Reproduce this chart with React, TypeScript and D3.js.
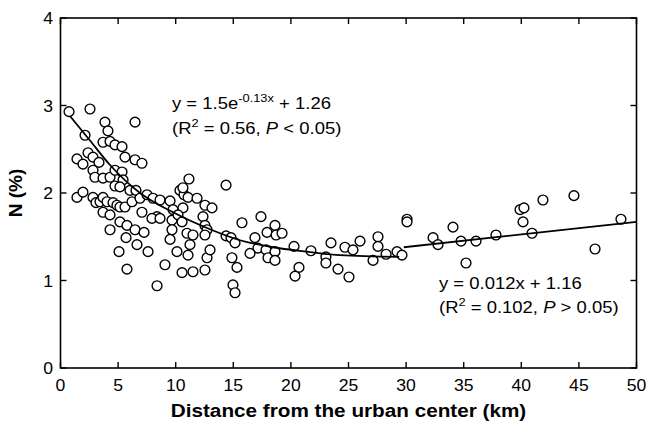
import React from "react";
import * as d3 from "d3";

// Scatter data: distance from urban center (km) and N (%)
const pointDistance = [
  0.74, 2.56, 2.13, 1.43, 1.95, 2.39, 2.82, 3.34, 2.82, 2.99, 1.43, 1.95, 2.82, 3.08, 3.43,
  3.86, 4.12, 3.69, 4.30, 4.73, 5.34, 5.60, 6.47, 7.07, 6.47, 3.69, 4.30, 4.73, 5.34, 5.43,
  4.73, 5.16, 6.03, 6.55, 3.69, 4.04, 4.56, 4.90, 5.16, 5.60, 6.21, 3.69, 4.30, 5.16, 5.77,
  4.30, 5.08, 5.69, 6.47, 6.64, 5.77, 6.90, 7.07,
  7.51, 8.03, 8.64, 9.51, 10.37, 10.72, 11.07, 11.15, 10.63, 11.85, 12.54, 13.15, 8.38, 7.94,
  8.64, 9.68, 9.77, 10.63, 10.20, 9.68, 9.51, 10.11, 10.55, 11.50, 11.07, 11.24, 10.98, 11.50,
  12.37, 12.54, 12.72, 12.54, 12.72, 12.98, 10.55, 8.38, 9.07, 7.25, 7.60, 12.54,
  14.37, 14.37, 14.80, 15.15, 15.75, 16.88, 17.40, 17.93, 18.62, 18.71, 19.23, 17.14, 16.45,
  17.84, 18.01, 18.62, 20.27, 20.70, 20.36, 18.62, 14.88, 15.32, 14.97, 15.15,
  21.74, 23.04, 23.04, 23.48, 24.09, 24.69, 25.04, 25.39, 26.0, 27.13, 27.56, 27.56, 28.26,
  29.21, 29.64, 30.08, 30.08, 32.34, 32.77, 34.07, 34.77, 35.2, 36.07, 37.8, 39.89, 40.23,
  40.15, 40.93, 41.88, 44.57, 46.4, 48.65,
];
const pointN = [
  2.93, 2.96, 2.66, 2.39, 2.33, 2.46, 2.41, 2.35, 2.26, 2.18, 1.95, 2.01, 1.95, 1.89, 1.90,
  2.81, 2.71, 2.58, 2.59, 2.55, 2.53, 2.41, 2.38, 2.34, 2.81, 2.17, 2.18, 2.26, 2.24, 2.15,
  2.08, 2.07, 2.03, 2.03, 1.95, 1.90, 1.89, 1.86, 1.84, 1.84, 1.90, 1.78, 1.75, 1.67, 1.63,
  1.58, 1.33, 1.49, 1.58, 1.41, 1.13, 1.94, 1.78,
  1.98, 1.94, 1.92, 1.91, 2.03, 1.98, 1.95, 2.16, 2.06, 1.94, 1.86, 1.83, 1.73, 1.71,
  1.71, 1.69, 1.81, 1.83, 1.75, 1.58, 1.47, 1.33, 1.09, 1.10, 1.29, 1.41, 1.54, 1.52,
  1.73, 1.63, 1.58, 1.12, 1.26, 1.35, 1.67, 0.94, 1.18, 1.55, 1.33, 1.52,
  2.09, 1.51, 1.49, 1.43, 1.66, 1.49, 1.73, 1.55, 1.63, 1.52, 1.54, 1.37, 1.31,
  1.35, 1.26, 1.33, 1.39, 1.15, 1.05, 1.23, 1.26, 1.15, 0.95, 0.86,
  1.34, 1.27, 1.20, 1.43, 1.13, 1.38, 1.04, 1.35, 1.45, 1.23, 1.50, 1.39, 1.30,
  1.33, 1.29, 1.70, 1.67, 1.49, 1.41, 1.61, 1.45, 1.20, 1.45, 1.52, 1.81, 1.83,
  1.67, 1.54, 1.92, 1.97, 1.36, 1.70,
];

// Fitted curves as drawn in the figure
const expFitX = [0.82, 2.56, 4.3, 6.9, 9.77, 12.72, 15.58, 18.45, 21.4, 24.26, 29.4];
const expFitY = [2.88, 2.6, 2.32, 2.0, 1.78, 1.6, 1.46, 1.38, 1.33, 1.29, 1.27];
const linFitX = [29.8, 50];
const linFitY = [1.38, 1.67];

const xTicks = [0, 5, 10, 15, 20, 25, 30, 35, 40, 45, 50];
const yTicks = [0, 1, 2, 3, 4];

const W = 647;
const H = 425;
const left = 60.5;
const right = 636.5;
const top = 18;
const bottom = 368;
const FONT = "'Liberation Sans', Arial, Helvetica, sans-serif";
const SX = 1.1;

const x = d3.scaleLinear().domain([0, 50]).range([left, right]);
const y = d3.scaleLinear().domain([0, 4]).range([bottom, top]);

function SText({ tx, ty, sx = SX, anchor = "start", size = 16, weight = "normal", children }: any) {
  return (
    <text
      transform={`translate(${tx},${ty}) scale(${sx},1)`}
      textAnchor={anchor}
      fontSize={size}
      fontWeight={weight}
      fontFamily={FONT}
      fill="#000"
    >
      {children}
    </text>
  );
}

export default function App() {
  const line = d3
    .line<[number, number]>()
    .x((d) => x(d[0]))
    .y((d) => y(d[1]))
    .curve(d3.curveMonotoneX);
  const expPts: [number, number][] = expFitX.map((v, i) => [v, expFitY[i]]);
  const linPts: [number, number][] = linFitX.map((v, i) => [v, linFitY[i]]);
  const tickLen = 6;
  const annSize = 16.5;
  const annSx = 1.12;

  return (
    <svg
      width={W}
      height={H}
      style={{ position: "absolute", left: 0, top: 0, background: "#fff" }}
    >
      <rect x={0} y={0} width={W} height={H} fill="#fff" />
      {/* ticks */}
      {xTicks.map((t) => (
        <g key={"xt" + t}>
          <line x1={x(t)} x2={x(t)} y1={bottom} y2={bottom - tickLen} stroke="#000" strokeWidth={1.4} />
          <line x1={x(t)} x2={x(t)} y1={top} y2={top + tickLen} stroke="#000" strokeWidth={1.4} />
          <SText tx={x(t)} ty={391} anchor="middle" size={16}>
            {t}
          </SText>
        </g>
      ))}
      {yTicks.map((t) => (
        <g key={"yt" + t}>
          <line x1={left} x2={left + tickLen} y1={y(t)} y2={y(t)} stroke="#000" strokeWidth={1.4} />
          <line x1={right} x2={right - tickLen} y1={y(t)} y2={y(t)} stroke="#000" strokeWidth={1.4} />
          <SText tx={53} ty={y(t) + 6} anchor="end" size={16}>
            {t}
          </SText>
        </g>
      ))}
      {/* frame */}
      <rect
        x={left}
        y={top}
        width={right - left}
        height={bottom - top}
        fill="none"
        stroke="#000"
        strokeWidth={1.6}
      />
      {/* points */}
      {pointDistance.map((d, i) => (
        <circle
          key={"p" + i}
          cx={x(d)}
          cy={y(pointN[i])}
          r={4.9}
          fill="#fff"
          stroke="#000"
          strokeWidth={1.4}
        />
      ))}
      {/* fits */}
      <path d={line(expPts) || ""} fill="none" stroke="#000" strokeWidth={1.8} />
      <path d={line(linPts) || ""} fill="none" stroke="#000" strokeWidth={1.8} />
      {/* annotations */}
      <SText tx={172} ty={109} size={annSize} sx={annSx}>
        y = 1.5e
        <tspan fontSize={11.5} dy={-7}>-0.13x</tspan>
        <tspan dy={7}> + 1.26</tspan>
      </SText>
      <SText tx={172} ty={134} size={annSize} sx={annSx}>
        (R
        <tspan fontSize={11.5} dy={-7}>2</tspan>
        <tspan dy={7}> = 0.56, </tspan>
        <tspan fontStyle="italic">P</tspan>
        <tspan> &lt; 0.05)</tspan>
      </SText>
      <SText tx={439} ty={289} size={annSize} sx={annSx}>
        y = 0.012x + 1.16
      </SText>
      <SText tx={439} ty={313} size={annSize} sx={annSx}>
        (R
        <tspan fontSize={11.5} dy={-7}>2</tspan>
        <tspan dy={7}> = 0.102, </tspan>
        <tspan fontStyle="italic">P</tspan>
        <tspan> &gt; 0.05)</tspan>
      </SText>
      {/* axis titles */}
      <SText tx={(left + right) / 2} ty={417} anchor="middle" size={18.5} weight="bold" sx={1.12}>
        Distance from the urban center (km)
      </SText>
      <text
        transform={`translate(22,193) rotate(-90)`}
        textAnchor="middle"
        fontSize={19}
        fontWeight="bold"
        fontFamily={FONT}
      >
        N (%)
      </text>
    </svg>
  );
}
